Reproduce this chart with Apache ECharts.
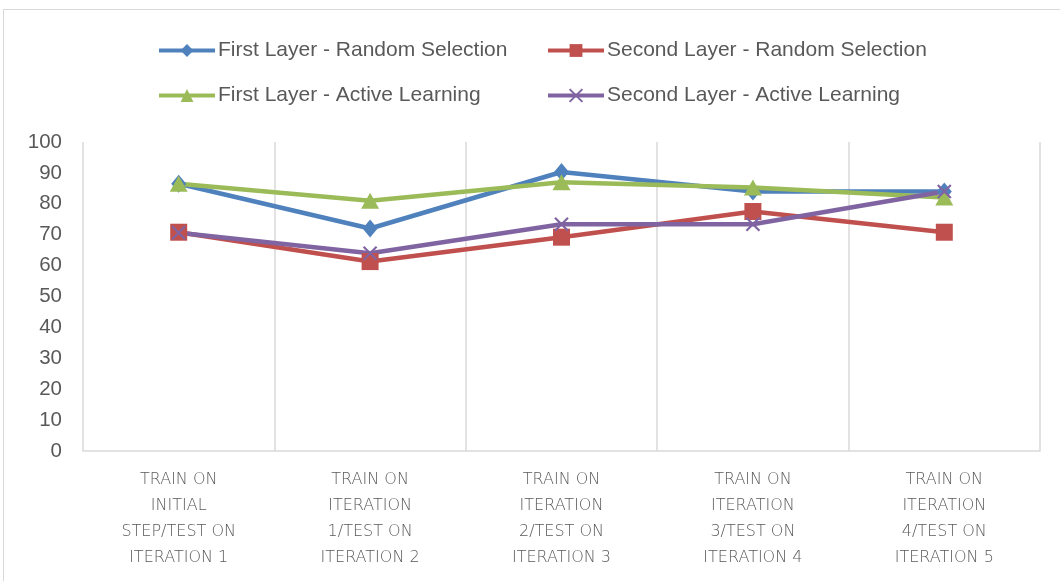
<!DOCTYPE html>
<html>
<head>
<meta charset="utf-8">
<script src="https://cdn.jsdelivr.net/npm/echarts@6/dist/echarts.min.js"></script>
<style>
  html, body { margin: 0; padding: 0; background: #fff; }
  .frame {
    position: absolute;
    left: 3px; top: 9px;
    width: 1070px; height: 590px;
    border: 1px solid #d9d9d9;
  }
  #chart {
    position: absolute;
    left: 0; top: 0;
    width: 1060px; height: 581px;
  }
</style>
</head>
<body>
<div class="frame"></div>
<div id="chart"></div>
<script>
  // categories / series
  var categories = [
    'TRAIN ON\nINITIAL\nSTEP/TEST ON\nITERATION 1',
    'TRAIN ON\nITERATION\n1/TEST ON\nITERATION 2',
    'TRAIN ON\nITERATION\n2/TEST ON\nITERATION 3',
    'TRAIN ON\nITERATION\n3/TEST ON\nITERATION 4',
    'TRAIN ON\nITERATION\n4/TEST ON\nITERATION 5'
  ];
  var seriesNames = [
    'First Layer - Random Selection',
    'Second Layer - Random Selection',
    'First Layer - Active Learning',
    'Second Layer - Active Learning'
  ];
  var firstRandom = [86.5, 72, 90.3, 84, 84];
  var secondRandom = [70.8, 61.3, 69.2, 77.5, 70.8];
  var firstActive = [86.5, 81, 87, 85.3, 82];
  var secondActive = [70.6, 64, 73.4, 73.4, 84];

  var textColor = '#595959';

  var myChart = echarts.init(document.getElementById('chart'));

  function makeLine(name, data, color, symbol, size, extra){
    var s = {
      name: name,
      type: 'line',
      data: data,
      symbol: symbol,
      symbolSize: size,
      lineStyle: {color: color, width: 4.5},
      itemStyle: {color: color},
      emphasis: {disabled: true}
    };
    if (extra) {
      s.itemStyle.borderColor = color;
      s.itemStyle.borderWidth = 2.2;
    }
    return s;
  }

  var legendBase = {
    orient: 'vertical',
    padding: 0,
    itemWidth: 56,
    itemHeight: 16,
    itemGap: 24,
    top: 40,
    lineStyle: {width: 4},
    textStyle: {color: textColor, fontSize: 21, fontFamily: 'Liberation Sans, sans-serif', padding: [0, 0, 0, -2]}
  };

  var option = {
    animation: false,
    legend: [
      Object.assign({}, legendBase, {left: 157, data: [seriesNames[0], seriesNames[2]]}),
      Object.assign({}, legendBase, {left: 546, data: [seriesNames[1], seriesNames[3]]})
    ],
    grid: {left: 83, right: 20, top: 142, bottom: 130},
    xAxis: {
      type: 'category',
      data: categories,
      boundaryGap: true,
      axisLine: {show: true, lineStyle: {color: '#d9d9d9', width: 1.5}},
      axisTick: {show: false},
      splitLine: {show: true, lineStyle: {color: '#d9d9d9', width: 1.5}},
      axisLabel: {
        interval: 0,
        margin: 16,
        color: textColor,
        fontSize: 16,
        fontWeight: 300,
        fontFamily: 'DejaVu Sans, sans-serif',
        lineHeight: 26
      }
    },
    yAxis: {
      type: 'value',
      min: 0,
      max: 100,
      interval: 10,
      axisLine: {show: false},
      axisTick: {show: false},
      splitLine: {show: false},
      axisLabel: {color: textColor, fontSize: 20.5, fontFamily: 'Liberation Sans, sans-serif', margin: 21}
    },
    series: [
      makeLine(seriesNames[0], firstRandom, '#4f81bd', 'diamond', [15, 18]),
      makeLine(seriesNames[1], secondRandom, '#c0504d', 'rect', 17),
      makeLine(seriesNames[2], firstActive, '#9bbb59', 'triangle', [18, 16]),
      makeLine(seriesNames[3], secondActive, '#8064a2', 'path://M0,0L10,10M10,0L0,10', 13, true)
    ]
  };
  myChart.setOption(option);
</script>
</body>
</html>
